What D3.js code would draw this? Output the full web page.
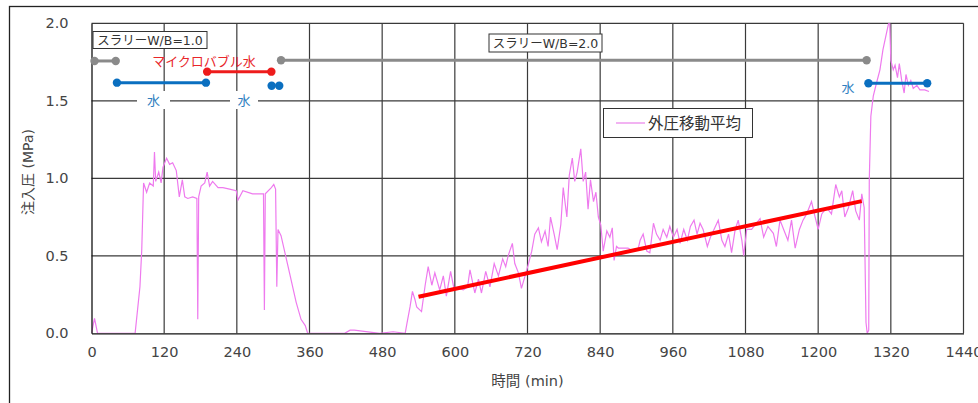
<!DOCTYPE html>
<html>
<head>
<meta charset="utf-8">
<script src="https://cdn.jsdelivr.net/npm/d3@7/dist/d3.min.js"></script>
<style>
  html, body { margin: 0; padding: 0; background: #fff; }
  svg { display: block; font-family: "DejaVu Sans", "Noto Sans CJK JP", sans-serif; }
</style>
</head>
<body>
<svg id="chart" width="978" height="403"></svg>
<script>
// Injection pressure, moving average (time in minutes, pressure in MPa)
const pressureTime = [
  0, 5, 10, 72, 80, 83, 86, 91, 96, 102, 104, 106, 111, 115, 118, 124, 129, 134, 140, 145,
  150, 154, 159, 167, 174, 175.5, 177, 181, 187, 191, 195, 200, 209, 217, 228, 239, 242, 250, 266, 284,
  285.5, 287, 297, 301, 304, 306, 308, 313, 327, 338, 346, 353, 357, 418, 427, 434, 476, 498, 518, 521,
  526, 530, 534, 537, 545, 551, 556, 562, 567, 575, 581, 586, 593, 599, 606, 614, 621, 625, 633, 639,
  644, 651, 658, 665, 672, 679, 684, 688, 695, 699, 705, 710, 716, 721, 727, 732, 738, 743, 749, 754,
  758, 764, 769, 775, 779, 785, 789, 794, 798, 802, 808, 812, 816, 820, 824, 829, 833, 837, 841, 845,
  851, 856, 860, 863, 867, 870, 876, 886, 895, 903, 906, 911, 917, 922, 928, 933, 939, 944, 950, 955,
  961, 967, 972, 978, 984, 989, 995, 1000, 1005, 1010, 1017, 1022, 1028, 1035, 1041, 1046, 1052, 1057, 1063, 1068,
  1074, 1077, 1082, 1090, 1098, 1104, 1110, 1117, 1126, 1131, 1137, 1143, 1150, 1156, 1162, 1169, 1175, 1181, 1189, 1195,
  1200, 1206, 1214, 1222, 1229, 1235, 1239, 1244, 1250, 1257, 1262, 1268, 1272, 1276, 1279, 1281, 1283.5, 1284.4, 1287, 1291,
  1296, 1302, 1307, 1313, 1318, 1320, 1324, 1327, 1331, 1334, 1338, 1342, 1345, 1349, 1353, 1357, 1363, 1368, 1376, 1383
];
const pressureValue = [
  0, 0.097, 0, 0, 0.30, 0.54, 0.97, 0.91, 0.97, 0.95, 1.17, 0.98, 1.04, 0.97, 1.07, 1.13, 1.09, 1.10, 1.05, 0.88,
  0.99, 0.88, 0.87, 0.88, 0.87, 0.09, 0.88, 0.95, 0.97, 1.04, 0.95, 0.98, 0.94, 0.94, 0.93, 0.92, 0.86, 0.92, 0.90, 0.90,
  0.15, 0.90, 0.94, 0.96, 0.93, 0.30, 0.67, 0.63, 0.39, 0.20, 0.09, 0.05, 0, 0, 0.02, 0.02, 0, 0.01, 0, 0.065,
  0.17, 0.27, 0.22, 0.17, 0.14, 0.31, 0.43, 0.31, 0.39, 0.28, 0.37, 0.24, 0.40, 0.28, 0.29, 0.28, 0.30, 0.41, 0.26, 0.35,
  0.26, 0.40, 0.30, 0.45, 0.37, 0.48, 0.43, 0.50, 0.58, 0.45, 0.39, 0.29, 0.37, 0.44, 0.53, 0.64, 0.68, 0.59, 0.66, 0.56,
  0.75, 0.64, 0.54, 0.70, 0.94, 0.75, 1.02, 1.13, 0.98, 1.04, 1.19, 0.98, 1.04, 0.80, 0.99, 0.85, 0.91, 0.75, 0.70, 0.53,
  0.66, 0.62, 0.68, 0.47, 0.56, 0.55, 0.55, 0.55, 0.53, 0.55, 0.60, 0.64, 0.53, 0.52, 0.71, 0.64, 0.60, 0.67, 0.62, 0.69,
  0.62, 0.67, 0.58, 0.67, 0.60, 0.69, 0.73, 0.64, 0.71, 0.67, 0.56, 0.62, 0.67, 0.73, 0.60, 0.56, 0.64, 0.52, 0.67, 0.73,
  0.60, 0.50, 0.67, 0.67, 0.71, 0.74, 0.62, 0.69, 0.645, 0.56, 0.73, 0.67, 0.60, 0.73, 0.55, 0.67, 0.73, 0.77, 0.85, 0.75,
  0.67, 0.77, 0.81, 0.77, 0.96, 0.88, 0.92, 0.75, 0.81, 0.92, 0.79, 0.73, 0.90, 0.81, 0.07, 0, 0.02, 0.99, 1.40, 1.53,
  1.61, 1.70, 1.83, 1.94, 2.03, 1.76, 1.70, 1.73, 1.65, 1.74, 1.63, 1.55, 1.67, 1.60, 1.63, 1.58, 1.60, 1.57, 1.57, 1.56
];

// Linear trend of the W/B=2.0 injection period: [time, MPa]
const trendStart = [540, 0.236];
const trendEnd = [1272, 0.853];

// Injection phases shown above the curve: [from, to] in minutes, level in MPa
const slurry1Span = [5, 40];        const slurry1Level = 1.757;
const slurry2Span = [313, 1280];    const slurry2Level = 1.762;
const water1Span = [42, 189];       const water1Level = 1.617;
const water2Dots = [297.5, 310];    const water2Level = 1.597;
const bubbleSpan = [191, 297];      const bubbleLevel = 1.688;
const water3Span = [1283, 1380];    const water3Level = 1.613;

const xTicks = [0, 120, 240, 360, 480, 600, 720, 840, 960, 1080, 1200, 1320, 1440];
const yTicks = [0, 0.5, 1.0, 1.5, 2.0];

const svg = d3.select("#chart");
const W = 978, H = 403;
const plot = { left: 91.5, right: 963.5, top: 23.3, bottom: 333.3 };

const x = d3.scaleLinear().domain([0, 1440]).range([plot.left, plot.right]);
const y = d3.scaleLinear().domain([0, 2]).range([plot.bottom, plot.top]);

svg.append("rect").attr("width", W).attr("height", H).attr("fill", "#fff");
// chart area frame
svg.append("rect").attr("x", 9.5).attr("y", 6.5).attr("width", 1200).attr("height", 600)
  .attr("fill", "none").attr("stroke", "#222").attr("stroke-width", 1.3);

// grid
const grid = svg.append("g");
grid.selectAll("line.v").data(xTicks.filter(d => d > 0)).join("line")
  .attr("x1", d => x(d)).attr("x2", d => x(d)).attr("y1", plot.top).attr("y2", plot.bottom)
  .attr("stroke", "#3a3a3a").attr("stroke-width", 1.2);
grid.selectAll("line.h").data(yTicks.filter(d => d > 0)).join("line")
  .attr("x1", plot.left).attr("x2", plot.right).attr("y1", d => y(d)).attr("y2", d => y(d))
  .attr("stroke", "#3a3a3a").attr("stroke-width", 1.2);

svg.append("clipPath").attr("id", "plotClip").append("rect")
  .attr("x", plot.left).attr("y", plot.top).attr("width", plot.right - plot.left).attr("height", plot.bottom - plot.top);

// pressure curve
const series = pressureTime.map((t, i) => [t, pressureValue[i]]);
svg.append("path").datum(series)
  .attr("clip-path", "url(#plotClip)")
  .attr("fill", "none").attr("stroke", "#ee7aee").attr("stroke-width", 1.2)
  .attr("d", d3.line().x(d => x(d[0])).y(d => y(d[1])));

// trend
svg.append("line")
  .attr("x1", x(trendStart[0])).attr("y1", y(trendStart[1]))
  .attr("x2", x(trendEnd[0])).attr("y2", y(trendEnd[1]))
  .attr("stroke", "#ff0000").attr("stroke-width", 4);

// axes
const xAxis = d3.axisBottom(x).tickValues(xTicks).tickSize(0).tickPadding(13).tickFormat(d3.format("d"));
const gx = svg.append("g").attr("transform", `translate(0,${plot.bottom})`).call(xAxis);
gx.select(".domain").attr("stroke", "#111").attr("stroke-width", 1.3);
gx.selectAll("text").attr("font-size", 14.5).attr("fill", "#444").attr("font-family", "DejaVu Sans");

const yAxis = d3.axisLeft(y).tickValues(yTicks).tickSize(0).tickPadding(23).tickFormat(d3.format(".1f"));
const gy = svg.append("g").attr("transform", `translate(${plot.left},0)`).call(yAxis);
gy.select(".domain").attr("stroke", "#111").attr("stroke-width", 1.3);
gy.selectAll("text").attr("font-size", 14.5).attr("fill", "#444").attr("font-family", "DejaVu Sans");

svg.append("text").attr("x", (plot.left + plot.right) / 2).attr("y", 386)
  .attr("text-anchor", "middle").attr("font-size", 14.5).attr("fill", "#444")
  .text("時間 (min)");
svg.append("text")
  .attr("transform", "translate(33,172) rotate(-90)")
  .attr("text-anchor", "middle").attr("font-size", 14).attr("fill", "#444")
  .text("注入圧 (MPa)");

// phase markers
const ann = svg.append("g");
function span(s, level, color) {
  ann.append("line").attr("x1", x(s[0])).attr("x2", x(s[1])).attr("y1", y(level)).attr("y2", y(level))
    .attr("stroke", color).attr("stroke-width", 3);
  ann.selectAll(null).data(s).join("circle")
    .attr("cx", d => x(d)).attr("cy", y(level)).attr("r", 4.2).attr("fill", color);
}
span(slurry1Span, slurry1Level, "#8a8a8a");
span(slurry2Span, slurry2Level, "#8a8a8a");
span(water1Span, water1Level, "#0a6fc0");
span(bubbleSpan, bubbleLevel, "#ee1c1c");
span(water3Span, water3Level, "#0a6fc0");
ann.selectAll(null).data(water2Dots).join("circle")
  .attr("cx", d => x(d)).attr("cy", y(water2Level)).attr("r", 4.2).attr("fill", "#0a6fc0");

// labelled boxes
function boxLabel(cx, cy, w, h, txt) {
  ann.append("rect").attr("x", cx - w / 2).attr("y", cy - h / 2).attr("width", w).attr("height", h)
    .attr("fill", "#fff").attr("stroke", "#333").attr("stroke-width", 1);
  ann.append("text").attr("x", cx).attr("y", cy).attr("dy", "0.36em").attr("text-anchor", "middle")
    .attr("font-size", 12.5).attr("fill", "#333").text(txt);
}
boxLabel(150, 40, 114, 17, "スラリーW/B=1.0");
boxLabel(545.5, 43, 113, 18, "スラリーW/B=2.0");

function waterLabel(cx, cy, bgw) {
  if (bgw) ann.append("rect").attr("x", cx - bgw / 2).attr("y", cy - 9).attr("width", bgw).attr("height", 18).attr("fill", "#fff");
  ann.append("text").attr("x", cx).attr("y", cy).attr("dy", "0.36em").attr("text-anchor", "middle")
    .attr("font-size", 13).attr("fill", "#2f7fbf").text("水");
}
waterLabel(153.5, 100, 33);
waterLabel(244, 100, 28);
waterLabel(848, 87, 0);

ann.append("text").attr("x", 204).attr("y", 61).attr("dy", "0.36em").attr("text-anchor", "middle")
  .attr("font-size", 13).attr("fill", "#e8262a").text("マイクロバブル水");

// legend
const lg = svg.append("g");
lg.append("rect").attr("x", 603.5).attr("y", 108.5).attr("width", 149).attr("height", 29)
  .attr("fill", "#fff").attr("stroke", "#333").attr("stroke-width", 1);
lg.append("line").attr("x1", 616).attr("x2", 645).attr("y1", 123).attr("y2", 123)
  .attr("stroke", "#ee9aee").attr("stroke-width", 1.5);
lg.append("text").attr("x", 648).attr("y", 123).attr("dy", "0.36em")
  .attr("font-size", 15.5).attr("fill", "#333").text("外圧移動平均");
</script>
</body>
</html>
